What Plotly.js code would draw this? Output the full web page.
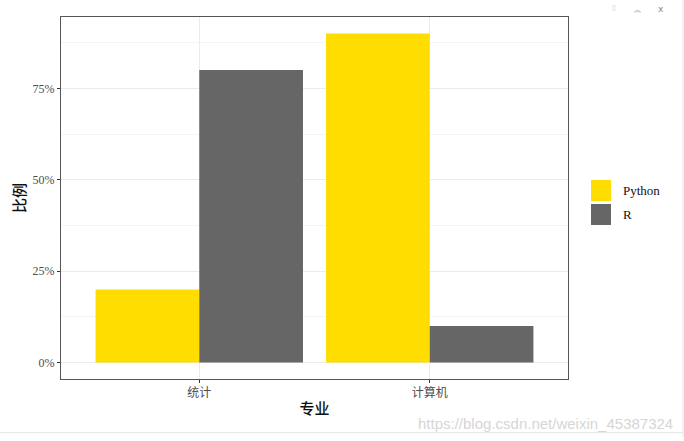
<!DOCTYPE html>
<html>
<head>
<meta charset="utf-8">
<script src="https://cdn.plot.ly/plotly-3.0.1.min.js"></script>
<style>html,body{margin:0;padding:0;background:#fff;}#chart{width:684px;height:441px;}</style>
</head>
<body>
<div id="chart"></div>
<script>
const majors = ['统计', '计算机'];
const seriesNames = ['Python', 'R'];
const pythonVals = [0.20, 0.90];
const rVals = [0.80, 0.10];
const yTickVals = [0, 0.25, 0.5, 0.75];
const yTickText = ['0%', '25%', '50%', '75%'];
const colors = ['#FFDD00', '#666666'];

const fontTick = {family: 'Liberation Serif, Noto Sans CJK SC, serif', size: 12, color: '#4d4d4d'};
const fontTitle = {family: 'Noto Sans CJK SC, Liberation Serif, serif', size: 15, color: '#111', weight: 500};

const traces = [
  {type: 'bar', name: seriesNames[0], x: majors, y: pythonVals, marker: {color: colors[0]}, showlegend: false},
  {type: 'bar', name: seriesNames[1], x: majors, y: rVals, marker: {color: colors[1]}, showlegend: false}
];

// legend keys drawn in paper space
const keyTops = [0.5497, 0.4834];
const keyH = 0.058;
const shapes = [];
const annotations = [];
seriesNames.forEach((n, i) => {
  shapes.push({type: 'rect', xref: 'paper', yref: 'paper', x0: 1.0454, x1: 1.0848,
    y0: keyTops[i] - keyH, y1: keyTops[i], fillcolor: colors[i], line: {width: 0}});
  annotations.push({xref: 'paper', yref: 'paper', x: 1.1045, y: keyTops[i] - keyH / 2,
    text: n, showarrow: false, xanchor: 'left', yanchor: 'middle',
    font: {family: 'Liberation Serif, serif', size: 13, color: '#111'}});
});
// window border lines
shapes.push({type: 'line', xref: 'paper', yref: 'paper', x0: -0.2, x1: 1.2268, y0: -0.1485, y1: -0.1485, line: {color: '#e2e2e2', width: 1}});
shapes.push({type: 'line', xref: 'paper', yref: 'paper', x0: 1.2268, x1: 1.2268, y0: -0.16, y1: 1.05, line: {color: '#e2e2e2', width: 1}});
// watermark
annotations.push({xref: 'paper', yref: 'paper', x: 1.211, y: -0.122, xanchor: 'right', yanchor: 'middle',
  text: 'https://blog.csdn.net/weixin_45387324', showarrow: false,
  font: {family: 'Liberation Sans, Arial, sans-serif', size: 15, color: '#d6d6d6'}});
// top-right window icons
const iconY = 1.0415;
annotations.push({xref: 'paper', yref: 'paper', x: 1.0907, y: iconY, xanchor: 'center', yanchor: 'top',
  text: '▯', showarrow: false, font: {family: 'DejaVu Sans', size: 7, color: '#ccc'}});
annotations.push({xref: 'paper', yref: 'paper', x: 1.1361, y: iconY, xanchor: 'center', yanchor: 'top',
  text: '︽', showarrow: false, font: {family: 'Noto Sans CJK SC', size: 7, color: '#aaa'}});
annotations.push({xref: 'paper', yref: 'paper', x: 1.1834, y: iconY, xanchor: 'center', yanchor: 'top',
  text: 'x', showarrow: false, font: {family: 'DejaVu Sans', size: 9, color: '#888'}});

const layout = {
  width: 684, height: 441,
  margin: {l: 61, r: 116, t: 17, b: 62},
  paper_bgcolor: '#fff', plot_bgcolor: '#fff',
  barmode: 'group', bargap: 0.1, bargroupgap: 0,
  showlegend: false,
  xaxis: {
    type: 'category', range: [-0.6, 1.6], automargin: false,
    showgrid: true, gridcolor: '#ebebeb', gridwidth: 1,
    showline: true, linecolor: '#555', linewidth: 1, mirror: true,
    ticks: 'outside', ticklen: 3, tickcolor: '#333', tickwidth: 1,
    tickfont: {family: 'Noto Sans CJK SC, serif', size: 12, color: '#4d4d4d'},
    zeroline: false,
    title: {text: '专业', font: fontTitle, standoff: 4}
  },
  yaxis: {
    range: [-0.045, 0.945], automargin: false,
    tickmode: 'array', tickvals: yTickVals, ticktext: yTickText,
    showgrid: true, gridcolor: '#ebebeb', gridwidth: 1,
    minor: {tickmode: 'linear', tick0: 0.125, dtick: 0.25, showgrid: true, gridcolor: '#f4f4f4', gridwidth: 1, ticklen: 0},
    showline: true, linecolor: '#555', linewidth: 1, mirror: true,
    ticks: 'outside', ticklen: 3, tickcolor: '#333', tickwidth: 1,
    tickfont: fontTick, zeroline: false,
    title: {text: '比例', font: fontTitle, standoff: 3}
  },
  shapes: shapes,
  annotations: annotations
};

Plotly.newPlot('chart', traces, layout, {displayModeBar: false, staticPlot: true});
</script>
</body>
</html>
